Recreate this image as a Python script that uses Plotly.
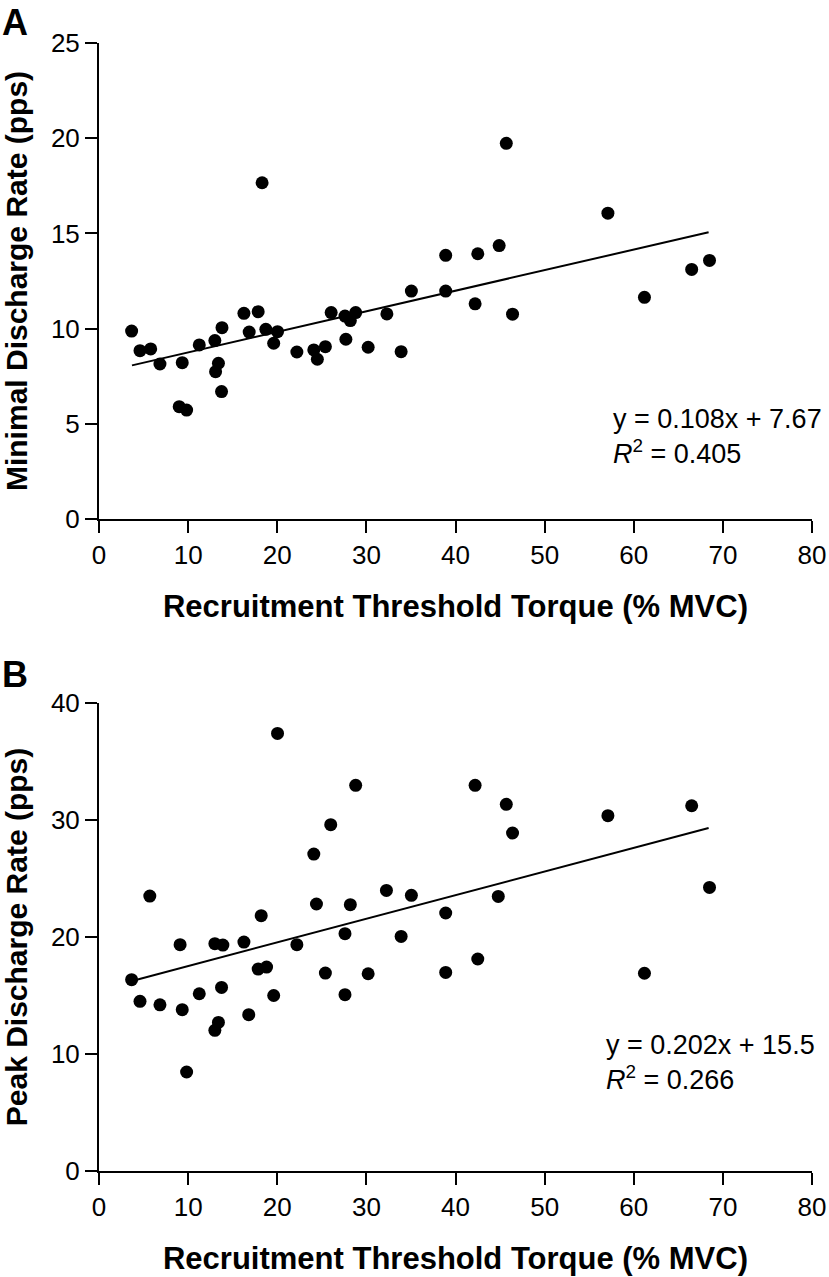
import plotly.graph_objects as go

# Recruitment threshold torque (% MVC), shared by both panels
rt_a = [3.66, 4.6, 5.8, 6.84, 9.34, 9.0, 9.83, 11.25, 13.0, 13.4, 13.08, 13.8, 13.75,
        16.26, 16.85, 17.86, 18.72, 20.03, 19.6, 22.2, 24.1, 24.5, 25.4, 26.05, 27.6,
        28.2, 28.8, 27.7, 30.2, 32.3, 33.9, 35.05, 38.9, 38.9, 42.2, 42.5, 46.4,
        45.7, 57.1, 44.9, 61.2, 66.5, 68.5, 18.3]
min_rate = [9.87, 8.84, 8.93, 8.14, 8.21, 5.90, 5.72, 9.14, 9.37, 8.18, 7.74, 10.05, 6.69,
            10.80, 9.82, 10.89, 9.96, 9.84, 9.23, 8.77, 8.88, 8.39, 9.05, 10.84, 10.66,
            10.42, 10.84, 9.44, 9.02, 10.77, 8.79, 11.97, 11.97, 13.85, 11.30, 13.93, 10.76,
            19.73, 16.06, 14.36, 11.64, 13.11, 13.58, 17.66]

rt_b = [3.66, 4.6, 6.84, 5.7, 9.1, 9.34, 9.83, 11.25, 13.0, 13.9, 13.75, 13.4, 13.0,
        16.26, 16.8, 18.2, 17.86, 18.8, 19.6, 22.2, 24.4, 25.4, 27.6, 27.6, 28.2,
        30.2, 32.25, 33.9, 35.05, 38.9, 38.9, 42.5, 44.8, 20.03, 28.8, 26.0, 24.1,
        42.2, 45.7, 46.4, 57.1, 66.5, 68.5, 61.2]
peak_rate = [16.35, 14.5, 14.2, 23.5, 19.34, 13.79, 8.46, 15.15, 19.43, 19.31, 15.69, 12.7, 12.02,
             19.57, 13.36, 21.82, 17.26, 17.43, 15.0, 19.34, 22.82, 16.92, 20.28, 15.07, 22.76,
             16.86, 23.98, 20.05, 23.56, 22.05, 16.97, 18.12, 23.47, 37.4, 32.96, 29.6, 27.09,
             32.96, 31.34, 28.89, 30.37, 31.22, 24.24, 16.9]

fit_a = (0.108, 7.67, 0.405)
fit_b = (0.202, 15.5, 0.266)
fit_x = [3.7, 68.4]

x_ticks = [0, 10, 20, 30, 40, 50, 60, 70, 80]
ya_ticks = [0, 5, 10, 15, 20, 25]
yb_ticks = [0, 10, 20, 30, 40]

W, H = 829, 1277
FONT = "Liberation Sans, Arial, Helvetica, sans-serif"

fig = go.Figure()
marker = dict(color="black", size=13)
fig.add_trace(go.Scatter(x=rt_a, y=min_rate, mode="markers", marker=marker,
                         xaxis="x", yaxis="y", showlegend=False))
fig.add_trace(go.Scatter(x=fit_x, y=[fit_a[0] * v + fit_a[1] for v in fit_x], mode="lines",
                         line=dict(color="black", width=2), xaxis="x", yaxis="y", showlegend=False))
fig.add_trace(go.Scatter(x=rt_b, y=peak_rate, mode="markers", marker=marker,
                         xaxis="x2", yaxis="y2", showlegend=False))
fig.add_trace(go.Scatter(x=fit_x, y=[fit_b[0] * v + fit_b[1] for v in fit_x], mode="lines",
                         line=dict(color="black", width=2), xaxis="x2", yaxis="y2", showlegend=False))

xdom = [99 / W, 812 / W]
ya_dom = [1 - 519 / H, 1 - 43 / H]
yb_dom = [1 - 1171 / H, 1 - 703 / H]

axcommon = dict(showgrid=False, zeroline=False, showline=True, linecolor="black", linewidth=2,
                ticks="outside", ticklen=12, tickwidth=2, tickcolor="black", automargin=False,
                tickfont=dict(family=FONT, size=26, color="black"))
xtitle = dict(text="<b>Recruitment Threshold Torque (% MVC)</b>",
              font=dict(family=FONT, size=31, color="black"), standoff=26)

fig.update_layout(
    width=W, height=H, paper_bgcolor="white", plot_bgcolor="white",
    margin=dict(l=0, r=0, t=0, b=0),
    xaxis=dict(domain=xdom, range=[0, 80], tickvals=x_ticks, anchor="y", title=xtitle, **axcommon),
    yaxis=dict(domain=ya_dom, range=[0, 25], tickvals=ya_ticks, anchor="x",
               title=dict(text="<b>Minimal Discharge Rate (pps)</b>",
                          font=dict(family=FONT, size=30, color="black"), standoff=20), **axcommon),
    xaxis2=dict(domain=xdom, range=[0, 80], tickvals=x_ticks, anchor="y2", title=xtitle, **axcommon),
    yaxis2=dict(domain=yb_dom, range=[0, 40], tickvals=yb_ticks, anchor="x2",
                title=dict(text="<b>Peak Discharge Rate (pps)</b>",
                           font=dict(family=FONT, size=30, color="black"), standoff=20), **axcommon),
)

eqfont = dict(family=FONT, size=27, color="black")
fig.add_annotation(x=57.5, y=4.35, xref="x", yref="y", xanchor="left", yanchor="middle",
                   align="left", showarrow=False, font=eqfont,
                   text=f"y = {fit_a[0]}x + {fit_a[1]}<br><i>R</i><sup>2</sup> = {fit_a[2]}")
fig.add_annotation(x=56.7, y=9.3, xref="x2", yref="y2", xanchor="left", yanchor="middle",
                   align="left", showarrow=False, font=eqfont,
                   text=f"y = {fit_b[0]}x + {fit_b[1]}<br><i>R</i><sup>2</sup> = {fit_b[2]}")

fig.add_annotation(x=0, y=1 - 0 / H, xref="paper", yref="paper", xanchor="left", yanchor="top",
                   showarrow=False, text="<b>A</b>", font=dict(family=FONT, size=36, color="black"))
fig.add_annotation(x=0, y=1 - 652 / H, xref="paper", yref="paper", xanchor="left", yanchor="top",
                   showarrow=False, text="<b>B</b>", font=dict(family=FONT, size=36, color="black"))

fig.write_html("out.html", config={"displayModeBar": False},
               post_script="document.body.style.margin='0';")
